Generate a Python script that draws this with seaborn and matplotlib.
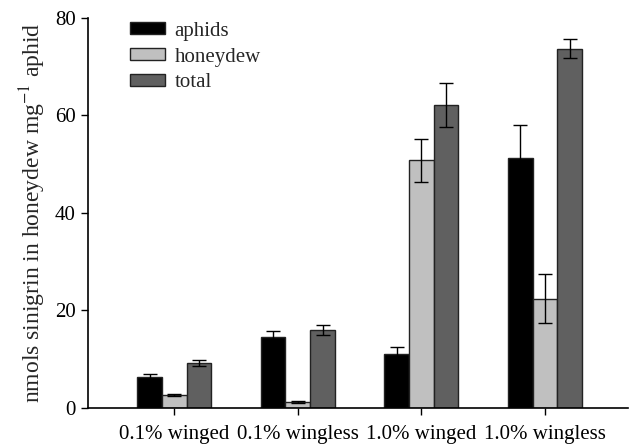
import numpy as np
import pandas as pd
import seaborn as sns
import matplotlib.pyplot as plt

# values
groups = ['0.1% winged', '0.1% wingless', '1.0% winged', '1.0% wingless']
series = ['aphids', 'honeydew', 'total']
aphids = [6.4, 14.6, 11.1, 51.2]
honeydew = [2.7, 1.2, 50.8, 22.4]
total = [9.2, 16.0, 62.2, 73.7]
aphids_err = [0.5, 1.2, 1.5, 6.8]
honeydew_err = [0.15, 0.25, 4.4, 5.0]
total_err = [0.6, 1.0, 4.5, 2.0]

colors = ['#000000', '#c0c0c0', '#606060']

df = pd.DataFrame({
    'group': groups * 3,
    'series': np.repeat(series, len(groups)),
    'value': aphids + honeydew + total,
})
errs = [aphids_err, honeydew_err, total_err]

sns.set_style('ticks')
plt.rcParams['font.family'] = ['Liberation Serif', 'DejaVu Serif']
plt.rcParams['mathtext.fontset'] = 'stix'

fig = plt.figure(figsize=(6.36, 4.45), dpi=100)
ax = fig.add_axes([0.138, 0.083, 0.849, 0.877])

sns.barplot(data=df, x='group', y='value', hue='series', order=groups,
            hue_order=series, palette=colors, width=0.6, errorbar=None,
            edgecolor='#222222', linewidth=1.0, saturation=1, ax=ax)

# error bars on the bar centres seaborn placed
for cont, e in zip(ax.containers, errs):
    xs = [b.get_x() + b.get_width() / 2 for b in cont]
    hs = [b.get_height() for b in cont]
    ax.errorbar(xs, hs, yerr=e, fmt='none', ecolor='black', elinewidth=1.0,
                capsize=5, capthick=1.0, zorder=5)

ax.set_ylim(0, 80)
ax.set_xlim(-0.7, 3.67)
ax.set_yticks([0, 20, 40, 60, 80])
ax.set_xlabel('')
ax.set_ylabel('nmols sinigrin in honeydew mg$^{-1}$ aphid', fontsize=17, labelpad=5)
ax.tick_params(axis='both', labelsize=15, direction='out', length=5, width=1, colors='black')
ax.tick_params(axis='x', pad=7)
for s in ['top', 'right']:
    ax.spines[s].set_visible(False)
for s in ['left', 'bottom']:
    ax.spines[s].set_linewidth(1.2)
    ax.spines[s].set_color('black')

leg = ax.legend(loc='upper left', bbox_to_anchor=(0.078, 0.99), frameon=False,
                fontsize=15, handlelength=1.7, handleheight=0.5,
                labelspacing=0.33, handletextpad=0.45, borderpad=0,
                borderaxespad=0)
for h in leg.get_patches():
    h.set_edgecolor('#222222')
    h.set_linewidth(1.0)

fig.savefig('out.png', dpi=100)
